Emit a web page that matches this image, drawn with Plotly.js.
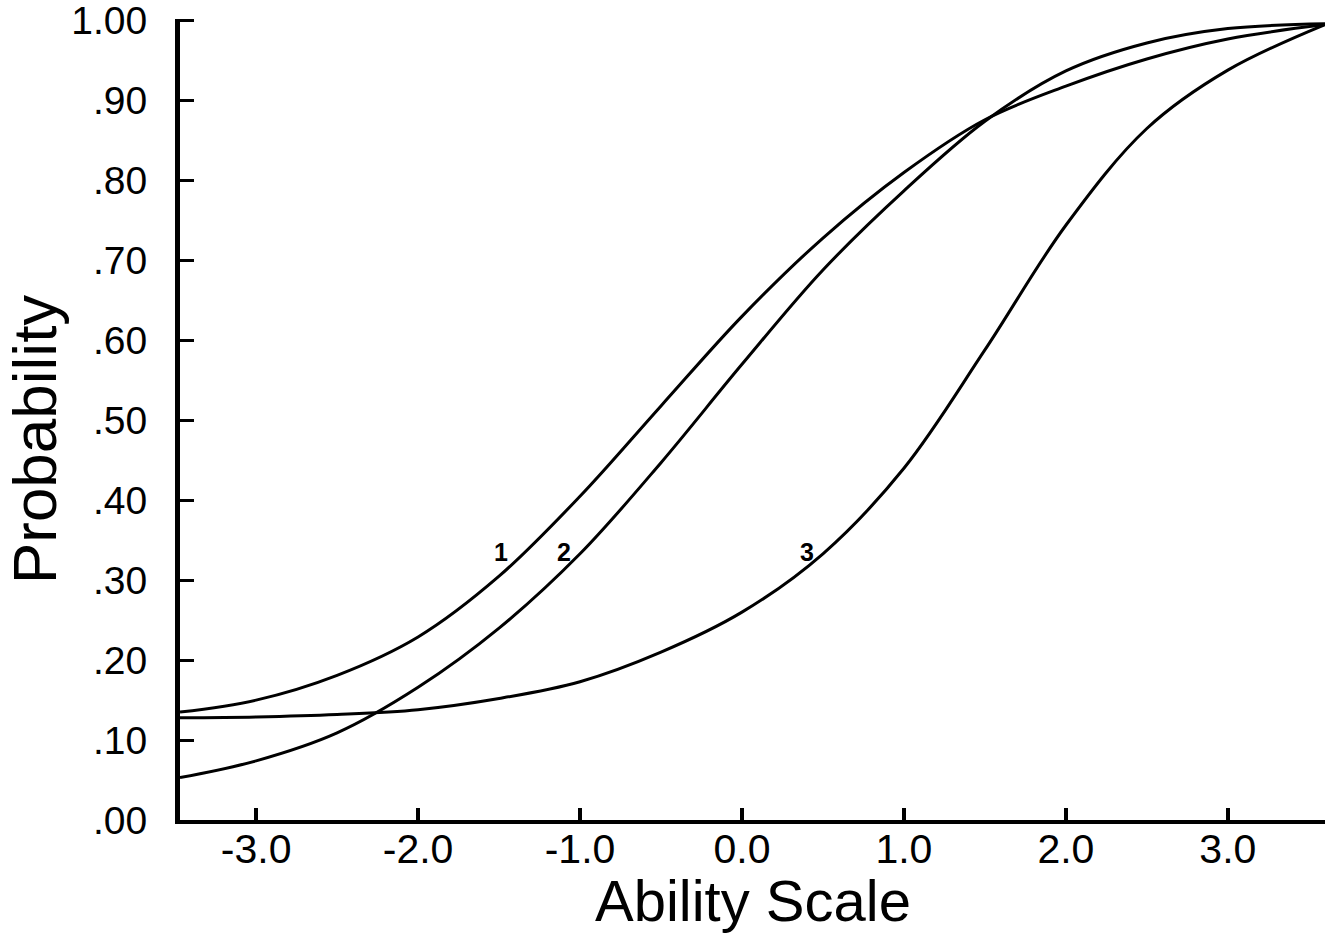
<!DOCTYPE html>
<html>
<head>
<meta charset="utf-8">
<script src="https://cdn.plot.ly/plotly-3.0.1.min.js"></script>
<style>
html,body{margin:0;padding:0;background:#fff;}
#chart{width:1334px;height:935px;}
</style>
</head>
<body>
<div id="chart"></div>
<script>
// Ability scale points (theta)
var theta = [-3.47, -3.0, -2.5, -2.0, -1.5, -1.0, -0.5, 0.0, 0.5, 1.0, 1.5, 2.0, 2.5, 3.0, 3.6];
// Item characteristic curves (probability of correct response)
var item1 = [0.135, 0.150, 0.181, 0.229, 0.305, 0.405, 0.518, 0.630, 0.728, 0.810, 0.876, 0.918, 0.952, 0.977, 0.995];
var item2 = [0.053, 0.074, 0.109, 0.166, 0.240, 0.333, 0.447, 0.570, 0.688, 0.787, 0.874, 0.937, 0.972, 0.990, 0.996];
var item3 = [0.128, 0.129, 0.132, 0.138, 0.152, 0.173, 0.210, 0.260, 0.333, 0.440, 0.588, 0.744, 0.865, 0.938, 0.995];

var curveNames = ['1', '2', '3'];
var labelX = [-1.49, -1.10, 0.40];
var labelY = [0.335, 0.335, 0.335];

var xTickVals = [-3, -2, -1, 0, 1, 2, 3];
var xTickText = ['-3.0', '-2.0', '-1.0', '0.0', '1.0', '2.0', '3.0'];
var yTickVals = [0, 0.1, 0.2, 0.3, 0.4, 0.5, 0.6, 0.7, 0.8, 0.9, 1.0];
var yTickText = ['.00', '.10', '.20', '.30', '.40', '.50', '.60', '.70', '.80', '.90', '1.00'];
var xTitle = 'Ability Scale';
var yTitle = 'Probability';

var FONT = 'Liberation Sans, Arial, sans-serif';

var series = [item1, item2, item3];
var traces = series.map(function (ys, i) {
  return {
    x: theta, y: ys, type: 'scatter', mode: 'lines', name: curveNames[i],
    line: {color: '#000', width: 3, shape: 'spline', smoothing: 1},
    hoverinfo: 'skip', showlegend: false, cliponaxis: false
  };
});

var annotations = curveNames.map(function (t, i) {
  return {
    x: labelX[i], y: labelY[i], xref: 'x', yref: 'y', text: '<b>' + t + '</b>',
    showarrow: false, font: {family: FONT, size: 25, color: '#000'},
    xanchor: 'center', yanchor: 'middle'
  };
});
// axis titles as annotations for precise placement
annotations.push({
  x: 0.5, y: -0.1, xref: 'paper', yref: 'paper', text: xTitle, showarrow: false,
  font: {family: FONT, size: 58, color: '#000'}, xanchor: 'center', yanchor: 'middle'
});
annotations.push({
  x: -0.127, y: 0.475, xref: 'paper', yref: 'paper', text: yTitle, showarrow: false,
  textangle: -90, font: {family: FONT, size: 62, color: '#000'}, xanchor: 'center', yanchor: 'middle'
});

var layout = {
  width: 1334, height: 935,
  margin: {l: 180, r: 9, t: 19, b: 115},
  paper_bgcolor: '#fff', plot_bgcolor: '#fff',
  showlegend: false,
  font: {family: FONT, color: '#000'},
  xaxis: {
    range: [-3.47, 3.6], showgrid: false, zeroline: false,
    showline: true, linecolor: '#000', linewidth: 4,
    ticks: 'inside', ticklen: 12, tickwidth: 4, tickcolor: '#000',
    tickmode: 'array', tickvals: xTickVals, ticktext: xTickText,
    tickfont: {size: 41, color: '#000'}, ticklabelstandoff: -10,
    ticklabeloverflow: 'allow'
  },
  yaxis: {
    range: [0, 1.002], showgrid: false, zeroline: false,
    showline: true, linecolor: '#000', linewidth: 5,
    ticks: 'inside', ticklen: 14, tickwidth: 3, tickcolor: '#000',
    tickmode: 'array', tickvals: yTickVals, ticktext: yTickText,
    tickfont: {size: 39, color: '#000'}, ticklabelstandoff: 20,
    ticklabeloverflow: 'allow'
  },
  annotations: annotations
};

Plotly.newPlot('chart', traces, layout, {displayModeBar: false, staticPlot: true});
</script>
</body>
</html>
